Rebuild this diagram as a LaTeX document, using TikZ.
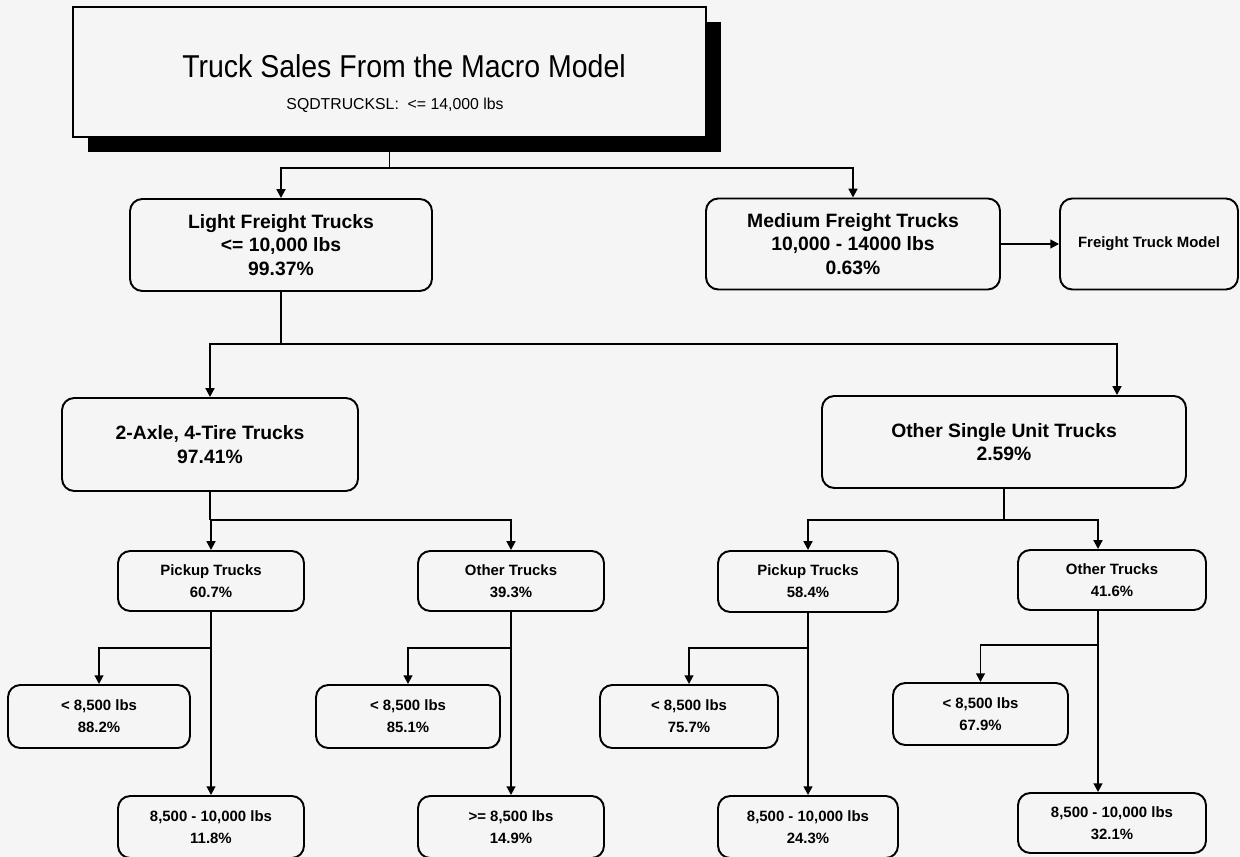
\documentclass[tikz,border=0pt]{standalone}
\usepackage{fontspec}
\setmainfont{Liberation Sans}
\usetikzlibrary{arrows.meta,shadows,positioning}
\definecolor{background}{RGB}{245,245,245}
\tikzset{>={Triangle[length=5pt,width=5pt]}}
\tikzset{
  wh/.style 2 args={minimum width=#1*0.02cm,minimum height=#2*0.02cm},
  box/.style={draw,line width=1.1pt,rounded corners=7pt,align=center,inner sep=0pt,
    font=\bfseries\fontsize{11}{13.5}\selectfont},
  smallbox/.style={box,font=\bfseries\fontsize{8.5}{12.5}\selectfont},
  titlebox/.style={draw,line width=1.1pt,fill=background,
    drop shadow={shadow xshift=0.3cm,shadow yshift=-0.3cm,fill=black,opacity=1}},
  link/.style={line width=1.1pt}
}

\begin{document}
\begin{tikzpicture}[x=0.02cm,y=-0.02cm]
\fill[background] (0,0) rectangle (1240,857);
\useasboundingbox (0,0) rectangle (1240,857);

% macro model
\node[titlebox,wh={633}{130}] (title) at (389.5,72) {};
\node[font=\fontsize{18}{21}\selectfont] (titletext) at (404,66) {\scalebox{0.9}[1]{Truck Sales From the Macro Model}};
\node[font=\fontsize{9}{11}\selectfont] (subtext) at (395,105) {SQDTRUCKSL:\ \ <= 14,000 lbs};

% freight classes
\node[box,wh={302}{92}] (light) at (281,245) {Light Freight Trucks\\<= 10,000 lbs\\99.37\%};
\node[box,wh={294}{91}] (medium) at (853,244) {Medium Freight Trucks\\10,000 - 14000 lbs\\0.63\%};
\node[box,wh={178}{91},font=\bfseries\fontsize{8.5}{10}\selectfont] (model) at (1149,244) {Freight Truck Model};

% light trucks
\node[box,wh={296}{93}] (axle) at (210,444.5) {2-Axle, 4-Tire Trucks\\97.41\%};
\node[box,wh={364}{92}] (single) at (1004,442) {Other Single Unit Trucks\\2.59\%};

\node[smallbox,wh={186}{60}] (pickA) at (211,581) {Pickup Trucks\\60.7\%};
\node[smallbox,wh={186}{60}] (otherA) at (511,581) {Other Trucks\\39.3\%};
\node[smallbox,wh={180}{61}] (pickB) at (808,581.5) {Pickup Trucks\\58.4\%};
\node[smallbox,wh={188}{60}] (otherB) at (1112,580) {Other Trucks\\41.6\%};

% weight classes
\node[smallbox,wh={182}{63}] (lowA) at (99,716.5) {< 8,500 lbs\\88.2\%};
\node[smallbox,wh={186}{62}] (highA) at (211,827) {8,500 - 10,000 lbs\\11.8\%};
\node[smallbox,wh={184}{63}] (lowB) at (408,716.5) {< 8,500 lbs\\85.1\%};
\node[smallbox,wh={186}{62}] (highB) at (511,827) {>= 8,500 lbs\\14.9\%};
\node[smallbox,wh={178}{63}] (lowC) at (689,716.5) {< 8,500 lbs\\75.7\%};
\node[smallbox,wh={180}{62}] (highC) at (808,827) {8,500 - 10,000 lbs\\24.3\%};
\node[smallbox,wh={175}{62}] (lowD) at (980.5,714) {< 8,500 lbs\\67.9\%};
\node[smallbox,wh={188}{60}] (highD) at (1112,823) {8,500 - 10,000 lbs\\32.1\%};

% connectors
\coordinate (top) at (389.5,168);
\draw[link] (title.south) -- (top);
\draw[link,->] (top) -| (light.north);
\draw[link,->] (top) -| (medium.north);
\draw[link,->] (medium.east) -- (model.west);

\coordinate (mid) at (281,344);
\draw[link] (light.south) -- (mid);
\draw[link,->] (mid) -| (axle.north);
\draw[link,->] (mid) -| ([xshift=2.26cm]single.north);

\coordinate (left) at (210,520);
\draw[link] (axle.south) -- (left);
\draw[link,->] (left) -| (pickA.north);
\draw[link,->] (left) -| (otherA.north);

\coordinate (right) at (1004,520);
\draw[link] (single.south) -- (right);
\draw[link,->] (right) -| (pickB.north);
\draw[link,->] (right) -| ([xshift=-0.28cm]otherB.north);

\draw[link,->] (pickA.south) -- (highA.north);
\coordinate (forkA) at (211,648);
\draw[link,->] (forkA) -| (lowA.north);

\draw[link,->] (otherA.south) -- (highB.north);
\coordinate (forkB) at (511,648);
\draw[link,->] (forkB) -| (lowB.north);

\draw[link,->] (pickB.south) -- (highC.north);
\coordinate (forkC) at (808,648);
\draw[link,->] (forkC) -| (lowC.north);

\draw[link,->] ([xshift=-0.28cm]otherB.south) -- ([xshift=-0.28cm]highD.north);
\coordinate (forkD) at (1098,645);
\draw[link,->] (forkD) -| (lowD.north);
\end{tikzpicture}
\end{document}
